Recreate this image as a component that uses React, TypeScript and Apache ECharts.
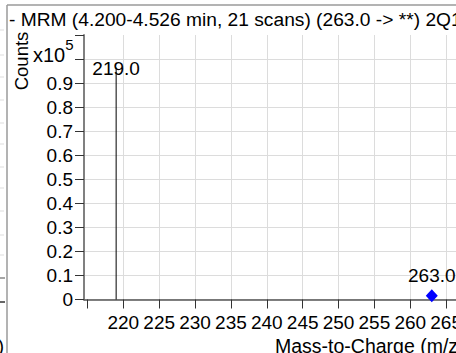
import React, { useEffect, useRef } from 'react';
import * as echarts from 'echarts';

// ---- data ----
const TITLE = '- MRM (4.200-4.526 min, 21 scans) (263.0 -> **) 2Q1';
const X_NAME = 'Mass-to-Charge (m/z)';
const Y_NAME = 'Counts';
const Y_EXPONENT = '5';
const X_TICKS = [215, 220, 225, 230, 235, 240, 245, 250, 255, 260, 265, 270];
const X_LABELS = [220, 225, 230, 235, 240, 245, 250, 255, 260, 265];
const Y_LABELS = [0, 0.1, 0.2, 0.3, 0.4, 0.5, 0.6, 0.7, 0.8, 0.9];
const PEAK_MZ = [219.0];
const PEAK_COUNTS = [0.965]; // x10^5
const PRECURSOR_MZ = [263.0];
const PRECURSOR_COUNTS = [0.016]; // x10^5

const FONT = 'Arial, "Liberation Sans", Helvetica, sans-serif';
const GRID_GREY = '#dcdcdc';

export default function App() {
  const ref = useRef<HTMLDivElement>(null);

  useEffect(() => {
    if (!ref.current) return;
    const chart = echarts.init(ref.current, undefined, { renderer: 'svg' });

    const leftStubs = [30, 55, 77, 100, 123, 144, 167, 188, 211, 235, 255];

    const option: any = {
      animation: false,
      backgroundColor: '#fff',
      textStyle: { fontFamily: FONT },
      title: {
        text: TITLE,
        left: 9,
        top: 10,
        padding: 0,
        textStyle: { fontSize: 19.2, fontWeight: 'normal', color: '#000', fontFamily: FONT },
      },
      grid: { left: 84, top: 35, width: 398, height: 264.5, containLabel: false },
      xAxis: {
        type: 'value',
        min: 214.52,
        max: 270,
        offset: 2,
        axisLine: { show: true, lineStyle: { color: '#555', width: 1.5 } },
        axisTick: { show: true, length: 9, customValues: X_TICKS, lineStyle: { color: '#333', width: 1 } },
        axisLabel: {
          customValues: X_LABELS,
          margin: 11.5,
          fontSize: 19,
          color: '#000',
          fontFamily: FONT,
          formatter: (v: number) => String(Math.round(v)),
        },
        splitLine: { show: true, showMinLine: false, lineStyle: { color: GRID_GREY, width: 1 } },
      },
      yAxis: {
        type: 'value',
        min: 0,
        max: 1.1,
        interval: 0.1,
        axisLine: { show: true, lineStyle: { color: '#808080', width: 2 } },
        axisTick: { show: true, length: 9, lineStyle: { color: '#333', width: 1 } },
        axisLabel: {
          margin: 11,
          fontSize: 19,
          color: '#000',
          fontFamily: FONT,
          padding: [5, 0, 0, 0],
          formatter: (v: number) => {
            const hit = Y_LABELS.find((l) => Math.abs(l - v) < 1e-6);
            if (hit === undefined) return '';
            return hit === 0 ? '0' : hit.toFixed(1);
          },
        },
        splitLine: { show: true, showMaxLine: false, lineStyle: { color: GRID_GREY, width: 1 } },
      },
      series: [
        {
          type: 'bar',
          data: PEAK_MZ.map((x, i) => [x, PEAK_COUNTS[i]]),
          barWidth: 1,
          itemStyle: { color: '#000' },
          label: {
            show: true,
            position: 'top',
            distance: 0,
            offset: [0, 11],
            fontSize: 19,
            color: '#000',
            fontFamily: FONT,
            formatter: (p: any) => p.value[0].toFixed(1),
          },
        },
        {
          type: 'scatter',
          data: PRECURSOR_MZ.map((x, i) => [x, PRECURSOR_COUNTS[i]]),
          symbol: 'diamond',
          symbolSize: [12, 13],
          itemStyle: { color: '#0000ff', opacity: 1 },
          label: {
            show: true,
            position: 'top',
            distance: 4,
            fontSize: 19,
            color: '#000',
            opacity: 1,
            fontFamily: FONT,
            formatter: (p: any) => p.value[0].toFixed(1),
          },
        },
      ],
      graphic: [
        { type: 'line', shape: { x1: 7, y1: 5, x2: 620, y2: 5 }, style: { stroke: '#9a9a9a', lineWidth: 1.5 } },
        { type: 'line', shape: { x1: 7, y1: 5, x2: 7, y2: 353 }, style: { stroke: '#9a9a9a', lineWidth: 1.5 } },
        ...leftStubs.map((y) => ({
          type: 'line',
          shape: { x1: 0, y1: y, x2: 4, y2: y },
          style: { stroke: '#dddddd', lineWidth: 1 },
        })),
        { type: 'line', shape: { x1: 0, y1: 278, x2: 5, y2: 278 }, style: { stroke: '#888', lineWidth: 1.5 } },
        { type: 'line', shape: { x1: 0, y1: 302, x2: 5, y2: 302 }, style: { stroke: '#333', lineWidth: 1.5 } },
        {
          type: 'text',
          x: 4,
          y: 345,
          style: { text: ')', fontSize: 19, fontFamily: FONT, fill: '#000', align: 'right', verticalAlign: 'middle' },
        },
        {
          type: 'text',
          x: 21.5,
          y: 61,
          rotation: Math.PI / 2,
          style: { text: Y_NAME, fontSize: 18.5, fontFamily: FONT, fill: '#000', align: 'center', verticalAlign: 'middle' },
        },
        {
          type: 'text',
          x: 33,
          y: 51,
          style: {
            text: '{a|x10}{b|' + Y_EXPONENT + '}',
            fontFamily: FONT,
            fill: '#000',
            align: 'left',
            verticalAlign: 'middle',
            rich: {
              a: { fontSize: 20, fontFamily: FONT, fill: '#000', verticalAlign: 'bottom', lineHeight: 20 },
              b: { fontSize: 15, fontFamily: FONT, fill: '#000', verticalAlign: 'top', lineHeight: 28 },
            },
          },
        },
        {
          type: 'text',
          x: 275,
          y: 346,
          style: { text: X_NAME, fontSize: 19.5, fontFamily: FONT, fill: '#000', align: 'left', verticalAlign: 'middle' },
        },
      ],
    };

    chart.setOption(option);
    return () => chart.dispose();
  }, []);

  return (
    <div
      style={{
        position: 'fixed',
        left: 0,
        top: 0,
        width: 456,
        height: 353,
        overflow: 'hidden',
        background: '#fff',
      }}
    >
      <div ref={ref} style={{ width: 620, height: 353 }} />
    </div>
  );
}
